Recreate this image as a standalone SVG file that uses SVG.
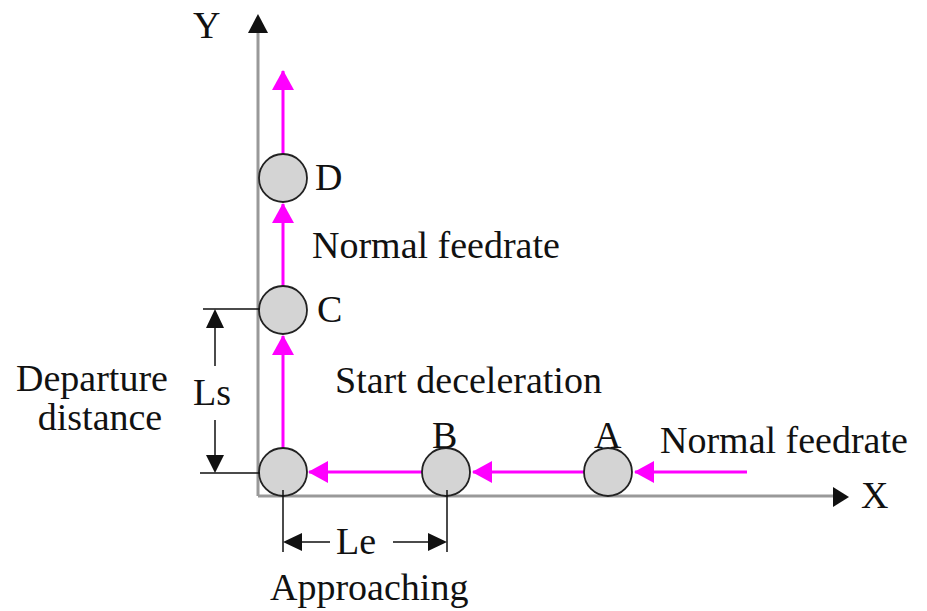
<svg xmlns="http://www.w3.org/2000/svg" width="927" height="611" viewBox="0 0 927 611">
<style>
text{font-family:"Liberation Serif","Times New Roman",serif;font-size:38px;fill:#111}
.ax{stroke:#999;stroke-width:3;fill:none}
.mg{stroke:#f0f;stroke-width:3;fill:none}
.dm{stroke:#111;stroke-width:1.5;fill:none}
.node circle{fill:#d4d4d4;stroke:#222;stroke-width:1.8}
</style>
<defs>
<marker id="mh" markerUnits="userSpaceOnUse" markerWidth="22" markerHeight="22" viewBox="0 0 20 22" refX="19" refY="11" orient="auto"><path d="M0,0 L20,11 L0,22 Z" fill="#f0f"/></marker>
</defs>
<g id="axes">
<path class="ax" d="M258,496 V32"/>
<path d="M248,33 L258,14 L268,33 Z" fill="#111"/>
<path class="ax" d="M258,496 H834"/>
<path d="M833,487 L849,497 L833,507 Z" fill="#111"/>
<text x="193" y="38">Y</text>
<text x="861" y="508">X</text>
</g>
<g id="connectors">
<path class="mg" d="M283,448 V336" marker-end="url(#mh)"/>
<path class="mg" d="M283,286 V204" marker-end="url(#mh)"/>
<path class="mg" d="M283,154 V71" marker-end="url(#mh)"/>
<path class="mg" d="M422,472 H309" marker-end="url(#mh)"/>
<path class="mg" d="M584,472 H473" marker-end="url(#mh)"/>
<path class="mg" d="M747,472 H635" marker-end="url(#mh)"/>
</g>
<g id="node-corner" class="node"><circle cx="283" cy="472" r="24"/></g>
<g id="node-A" class="node"><circle cx="608" cy="472" r="24"/><text x="594" y="448">A</text></g>
<g id="node-B" class="node"><circle cx="446" cy="472" r="24"/><text x="432" y="448">B</text></g>
<g id="node-C" class="node"><circle cx="283" cy="310" r="24"/><text x="317" y="322">C</text></g>
<g id="node-D" class="node"><circle cx="283" cy="178" r="24"/><text x="315" y="190">D</text></g>
<g id="dim-Ls">
<path class="dm" d="M203,309 H260 M200,473 H260 M215,366 V326 M215,420 V456"/>
<path d="M206,328 L215,309 L224,328 Z M206,455 L215,473 L224,455 Z" fill="#111"/>
<text x="193" y="405">Ls</text>
</g>
<g id="dim-Le">
<path class="dm" d="M283,490 V552 M447,490 V552 M302,542 H330 M393,542 H428"/>
<path d="M302,533 L283,542 L302,551 Z M428,533 L447,542 L428,551 Z" fill="#111"/>
<text x="336" y="554">Le</text>
</g>
<g id="labels">
<text x="312" y="258">Normal feedrate</text>
<text x="335" y="393">Start deceleration</text>
<text x="660" y="453">Normal feedrate</text>
<text x="92" y="391" text-anchor="middle">Departure</text>
<text x="100" y="430" text-anchor="middle">distance</text>
<text x="270" y="600">Approaching</text>
</g>
</svg>
